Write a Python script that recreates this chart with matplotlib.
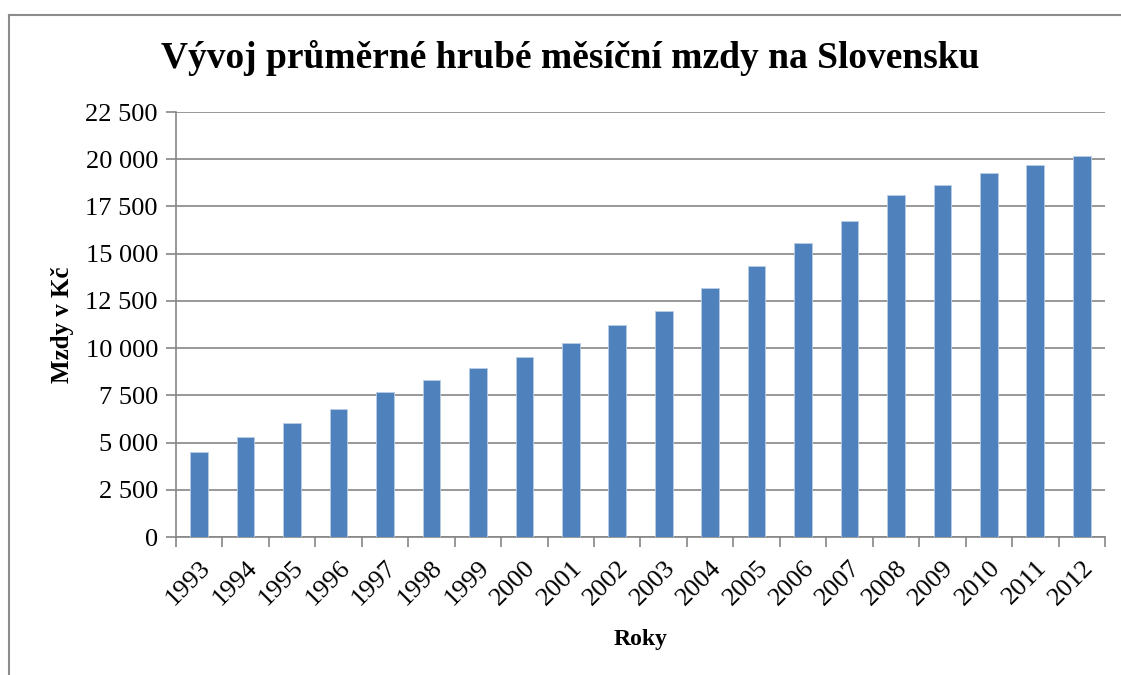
import numpy as np
import matplotlib.pyplot as plt
from matplotlib.lines import Line2D
from matplotlib.ticker import FuncFormatter

# Data
roky = ['1993', '1994', '1995', '1996', '1997', '1998', '1999', '2000', '2001', '2002',
        '2003', '2004', '2005', '2006', '2007', '2008', '2009', '2010', '2011', '2012']
mzdy = [4500, 5280, 6020, 6790, 7680, 8340, 8930, 9510, 10290, 11240,
        11950, 13170, 14360, 15580, 16750, 18090, 18640, 19250, 19680, 20150]
y_ticks = [0, 2500, 5000, 7500, 10000, 12500, 15000, 17500, 20000, 22500]

plt.rcParams['font.family'] = ['Liberation Serif', 'DejaVu Serif']

fig = plt.figure(figsize=(11.21, 6.75), dpi=100)
ax = fig.add_axes([0.157, 0.2044, 0.8287, 0.6296])

x = np.arange(len(roky))
ax.bar(x, mzdy, width=0.38, color='#4F81BD', edgecolor='#B9CDE5', linewidth=0.6, zorder=3)

# Axes
ax.set_xlim(-0.5, len(roky) - 0.5)
ax.set_ylim(0, 22500)
ax.set_yticks(y_ticks)
ax.yaxis.set_major_formatter(FuncFormatter(lambda v, p: f'{int(v):,}'.replace(',', ' ')))
ax.grid(axis='y', color='#868686', linewidth=1.2, zorder=0)

ax.set_xticks(x)
ax.set_xticklabels(roky, rotation=45, ha='right', rotation_mode='anchor', fontsize=19)
ax.set_xticks(np.arange(-0.5, len(roky)), minor=True)
ax.tick_params(axis='x', which='major', length=0, pad=14)
ax.tick_params(axis='x', which='minor', length=7, color='#868686', width=1.2)
ax.tick_params(axis='y', length=7, color='#868686', width=1.2, labelsize=19, pad=6)

for s in ['top', 'right']:
    ax.spines[s].set_visible(False)
for s in ['left', 'bottom']:
    ax.spines[s].set_color('#868686')
    ax.spines[s].set_linewidth(1.2)

ax.set_title('Vývoj průměrné hrubé měsíční mzdy na Slovensku', fontsize=27,
             fontweight='bold', pad=32, x=0.424)
ax.set_xlabel('Roky', fontsize=17, fontweight='bold', labelpad=14)
ax.set_ylabel('Mzdy v Kč', fontsize=18, fontweight='bold', labelpad=8)

# Chart border (Excel frame)
fig.add_artist(Line2D([0.008, 0.008], [0.0, 0.978], color='#8C8C8C', linewidth=1.5))
fig.add_artist(Line2D([0.008, 1.0], [0.978, 0.978], color='#8C8C8C', linewidth=1.5))

fig.savefig('out.png', dpi=100, facecolor='white')
